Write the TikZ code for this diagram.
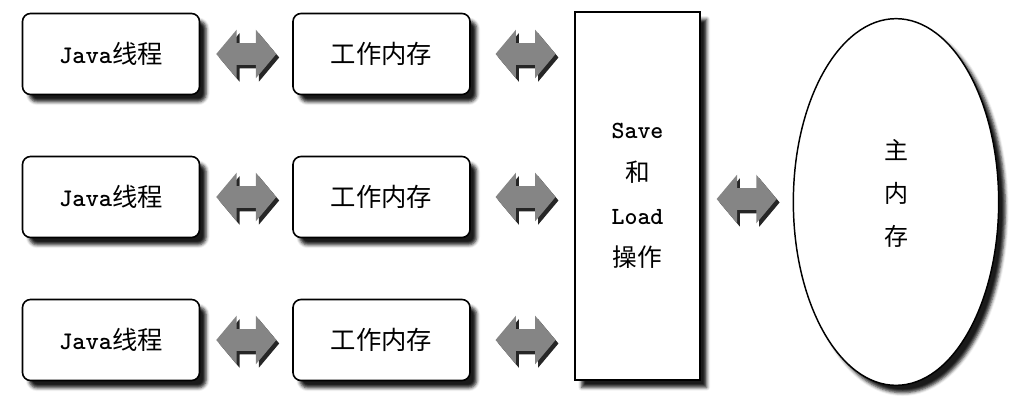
\documentclass[tikz,border=0pt]{standalone}
\usepackage{fontspec}
\newfontfamily\cjk{Noto Sans CJK SC}
\usetikzlibrary{shapes.geometric,shapes.arrows,shadows.blur,calc}
\tikzset{
  shad/.style={blur shadow={shadow xshift=5pt,shadow yshift=-5.5pt,shadow blur radius=2.5pt,shadow opacity=90}},
  box/.style={draw=black, line width=1.2pt, rounded corners=6pt, fill=white,
    minimum width=132.75pt, minimum height=60.75pt, shad,
    font=\ttfamily\bfseries\fontsize{19}{22}\selectfont},
  slbox/.style={draw=black, line width=1.1pt, fill=white,
    minimum width=93.75pt, minimum height=276pt, shad, align=center,
    font=\ttfamily\bfseries\fontsize{18.5}{32}\selectfont},
  mainmem/.style={ellipse, draw=black, line width=1.1pt, fill=white,
    minimum width=154pt, minimum height=275pt, inner sep=0pt, shad},
  memtext/.style={align=center, font=\cjk\fontsize{18}{32}\selectfont},
  dblarrow/.style={double arrow, fill=black!48, draw=none, inner sep=0pt, inner ysep=8pt,
    minimum height=45pt, minimum width=36pt, double arrow head extend=10pt,
    double arrow tip angle=100,
    drop shadow={shadow xshift=2.2pt, shadow yshift=-2.6pt, fill=black!85, opacity=1}}
}
\begin{document}
\begin{tikzpicture}[x=0.75pt,y=-0.75pt]
\useasboundingbox (0,0) rectangle (1016,406);
% Java threads
\node[box] (j1) at (111,54) {Java{\cjk\mdseries 线程}};
\node[box] (j2) at (111,197) {Java{\cjk\mdseries 线程}};
\node[box] (j3) at (111,340) {Java{\cjk\mdseries 线程}};
% working memory
\node[box] (w1) at (381.5,54) {\cjk\mdseries 工作内存};
\node[box] (w2) at (381.5,197) {\cjk\mdseries 工作内存};
\node[box] (w3) at (381.5,340) {\cjk\mdseries 工作内存};
% save and load
\node[slbox] (sl) at (637.5,196) {Save\\{\cjk\mdseries 和}\\Load\\{\cjk\mdseries 操作}};
% main memory
\node[mainmem, label={[memtext, yshift=6.5pt]center:主\\内\\存}] (mm) at (896,202) {};
% arrows
\node[dblarrow] (a1) at ($(j1.east)!0.5!(w1.west)$) {};
\node[dblarrow] (a2) at ($(j2.east)!0.5!(w2.west)$) {};
\node[dblarrow] (a3) at ($(j3.east)!0.5!(w3.west)$) {};
\node[dblarrow] (b1) at ($(w1.east)!0.5!(sl.west |- w1.east)+(3,0)$) {};
\node[dblarrow] (b2) at ($(w2.east)!0.5!(sl.west |- w2.east)+(3,0)$) {};
\node[dblarrow] (b3) at ($(w3.east)!0.5!(sl.west |- w3.east)+(3,0)$) {};
\node[dblarrow] (c1) at ($(sl.east)!0.5!(mm.west)$) {};
\end{tikzpicture}
\end{document}
